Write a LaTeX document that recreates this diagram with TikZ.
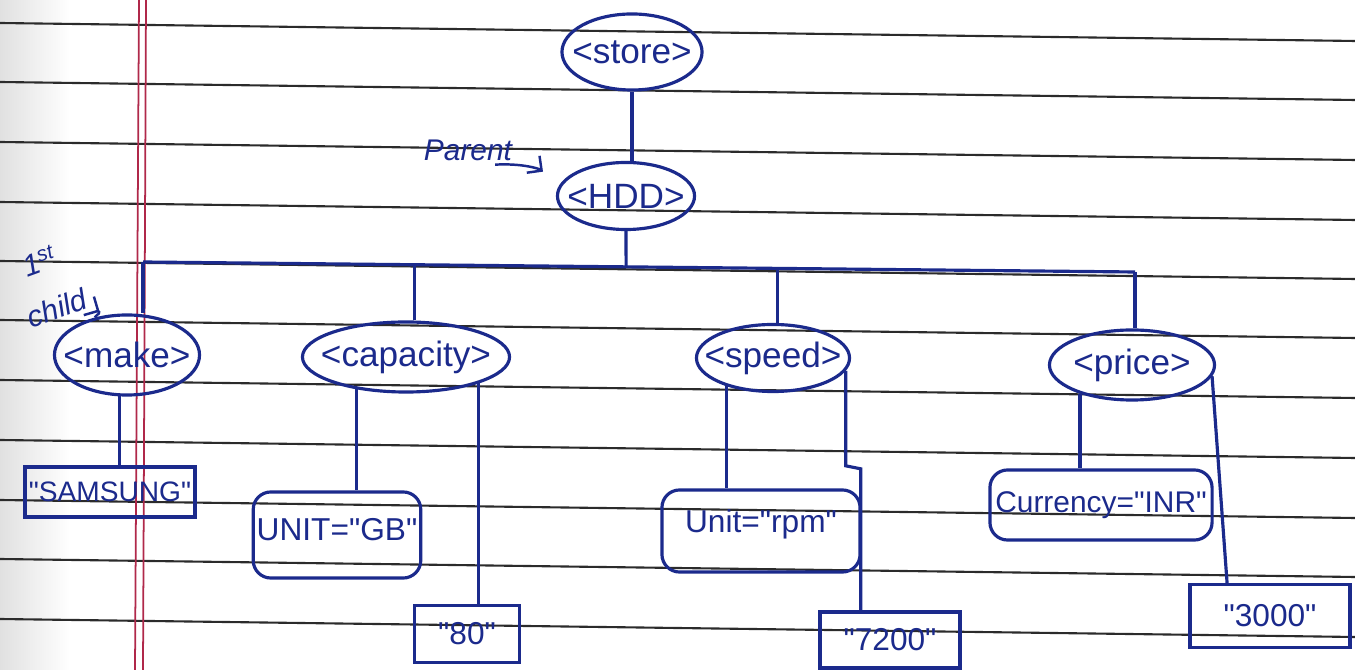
\documentclass[tikz,border=0pt]{standalone}
\usepackage{fontspec}
\setmainfont{Liberation Sans}[Ligatures=TeXOff]
\usetikzlibrary{arrows.meta,calc,shapes.geometric}
\definecolor{Ink}{HTML}{1B2A8C}
\definecolor{Rule}{HTML}{2B2B2B}
\definecolor{Margin}{HTML}{B0284A}
\newcommand{\tagtext}[1]{\makebox[0pt]{#1}}

\begin{document}
\begin{tikzpicture}[x=0.01cm,y=0.01cm,
    tag/.style={ellipse,draw=Ink,text=Ink,line width=0.9pt,inner sep=0pt,
      font=\fontsize{10}{12}\selectfont},
    val/.style={rectangle,draw=Ink,text=Ink,line width=0.9pt,inner sep=1pt,
      font=\fontsize{9}{11}\selectfont},
    attr/.style={val,rounded corners=5pt},
    link/.style={draw=Ink,line width=0.9pt},
    note/.style={text=Ink,inner sep=1pt,font=\itshape\fontsize{8.5}{9}\selectfont}]
  \useasboundingbox (0,0) rectangle (1355,670);
  \fill[white] (0,0) rectangle (1355,670);
  \shade[left color=black!12,right color=white] (0,0) rectangle (70,670);
  % ruled paper
  \foreach \y in {647,588,528,468,409,350,290,230,170,111,51}
    \draw[Rule,line width=0.6pt] (0,\y) -- (1355,\y-18);
  \draw[Margin,line width=0.5pt] (139,670) -- (135,0);
  \draw[Margin,line width=0.5pt] (146,670) -- (143,0);

  % tags
  \node[tag,minimum width=1.40cm,minimum height=0.76cm] (store) at (632,618) {\tagtext{<store>}};
  \node[tag,minimum width=1.37cm,minimum height=0.67cm] (hdd) at (626,474) {\tagtext{<HDD>}};
  \node[tag,minimum width=1.45cm,minimum height=0.80cm] (make) at (127,315) {\tagtext{<make>}};
  \node[tag,minimum width=2.07cm,minimum height=0.70cm] (capacity) at (406,313) {\tagtext{<capacity>}};
  \node[tag,minimum width=1.53cm,minimum height=0.67cm] (speed) at (773,312) {\tagtext{<speed>}};
  \node[tag,minimum width=1.65cm,minimum height=0.70cm] (price) at (1132,305) {\tagtext{<price>}};

  % values and attributes
  \node[val,minimum width=1.70cm,minimum height=0.50cm,font=\fontsize{8}{10}\selectfont] (samsung) at (110,178) {"SAMSUNG"};
  \node[attr,minimum width=1.61cm,minimum height=0.86cm,text depth=0.12cm] (gb) at (337,135) {UNIT="GB"};
  \node[val,minimum width=1.05cm,minimum height=0.57cm] (eighty) at (467,36) {"80"};
  \node[attr,minimum width=1.98cm,minimum height=0.82cm,text depth=0.2cm] (rpm) at (761,139) {Unit="rpm"};
  \node[val,minimum width=1.40cm,minimum height=0.56cm] (rpmval) at (890,30) {"7200"};
  \node[attr,minimum width=2.22cm,minimum height=0.70cm,font=\fontsize{8.5}{10}\selectfont] (inr) at (1101,165) {Currency="INR"};
  \node[val,minimum width=1.60cm,minimum height=0.63cm] (priceval) at (1270,54) {"3000"};

  % tree
  \coordinate (busL) at (143,408);
  \coordinate (busR) at (1135,398);
  \coordinate (bh) at ($(busL)!0.487!(busR)$);
  \coordinate (b2) at ($(busL)!0.274!(busR)$);
  \coordinate (b3) at ($(busL)!0.640!(busR)$);
  \draw[link] (store.south) -- (store.south |- hdd.north);
  \draw[link] (hdd.south) -- (bh);
  \draw[link] (busL) -- (busR);
  \draw[link] (busL) -- (busL |- make.north);
  \draw[link] (b2) -- (b2 |- capacity.north);
  \draw[link] (b3) -- (b3 |- speed.north);
  \draw[link] (busR) -- (busR |- price.north);

  \draw[link] (make.260) -- (make.260 |- samsung.north);
  \draw[link] (capacity.213) -- (capacity.213 |- gb.north);
  \draw[link] (capacity.340) -- (capacity.340 |- eighty.north);
  \draw[link] (speed.211) -- (speed.211 |- rpm.north);
  \draw[link] (speed.350) -- ++(0,-95) -- ++(15,-3) coordinate (jog) -- (jog |- rpmval.north);
  \draw[link] (price.209) -- (price.209 |- inr.north);
  \draw[link] (price.352) -- ($(priceval.north west)!0.237!(priceval.north east)$);

  % notes
  \node[note] (parent) at (468,520) {Parent};
  \draw[Ink,line width=0.7pt,-{Straight Barb[length=3pt]},shorten >=6pt]
    ([xshift=-6pt]parent.south east) to[bend left=20] (hdd.170);
  \node[note,rotate=20,align=center] (child) at (48,386) {1\textsuperscript{st}\\[5pt]child};
  \draw[Ink,line width=0.7pt,-{Straight Barb[length=3pt]},shorten >=2pt]
    ([yshift=-2pt]child.south east) to[bend left=40] (make.118);
\end{tikzpicture}
\end{document}
